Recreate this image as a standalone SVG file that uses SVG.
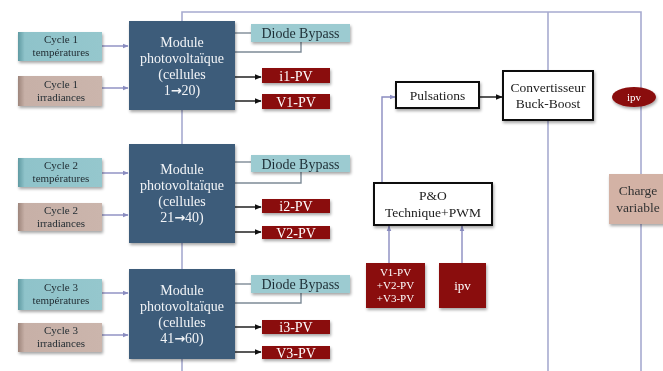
<svg xmlns="http://www.w3.org/2000/svg" width="663" height="371" viewBox="0 0 663 371">
<defs>
<style>
.t{font-family:"Liberation Serif","Times New Roman",serif;text-anchor:middle}
.arr{font-family:"DejaVu Sans",sans-serif;font-weight:bold;font-size:13px}
.mod{fill:#3d5c7a}
.mt{fill:#f2f4f7;font-size:14px}
.ct{fill:#1f2a30;font-size:11px}
.dt{fill:#1f2f36;font-size:14px}
.rt{fill:#ffffff;font-size:14px}
.red{fill:#8a0d0d}
.diode{fill:#9ccbd1}
.wb{fill:#ffffff;stroke:#111;stroke-width:2}
.bt{fill:#222;font-size:13.5px}
.lav{stroke:#a7abd0;stroke-width:1.6;fill:none}
.gl{stroke:#7d8a96;stroke-width:1.4;fill:none}
.pa{stroke:#8a8cc0;stroke-width:1.4;fill:none}
.ba{stroke:#111;stroke-width:1.4;fill:none}
</style>
<linearGradient id="gTeal" x1="0" y1="0" x2="1" y2="0">
<stop offset="0" stop-color="#5f9aa2"/><stop offset="0.08" stop-color="#8fc3ca"/><stop offset="1" stop-color="#95c7cd"/>
</linearGradient>
<linearGradient id="gBrown" x1="0" y1="0" x2="1" y2="0">
<stop offset="0" stop-color="#9d857b"/><stop offset="0.08" stop-color="#c7b0a7"/><stop offset="1" stop-color="#cbb5ac"/>
</linearGradient>
<filter id="sh" x="-20%" y="-20%" width="140%" height="150%">
<feDropShadow dx="1" dy="2" stdDeviation="1.5" flood-color="#000" flood-opacity="0.35"/>
</filter>
<marker id="ap" viewBox="0 0 10 10" refX="9" refY="5" markerWidth="6" markerHeight="6" orient="auto" markerUnits="userSpaceOnUse">
<path d="M0,1 L10,5 L0,9 z" fill="#8a8cc0"/>
</marker>
<marker id="ab" viewBox="0 0 10 10" refX="9" refY="5" markerWidth="7" markerHeight="7" orient="auto" markerUnits="userSpaceOnUse">
<path d="M0,1 L10,5 L0,9 z" fill="#111"/>
</marker>
</defs>
<rect width="663" height="371" fill="#ffffff"/>

<g id="connectors">
<path class="lav" d="M182,371 V12 H641 V371"/>
<path class="lav" d="M548,12 V371"/>
<path class="pa" d="M102,46 H128" marker-end="url(#ap)"/>
<path class="pa" d="M102,88 H128" marker-end="url(#ap)"/>
<path class="gl" d="M235,33 H251"/>
<path class="gl" d="M235,52 H301 V42"/>
<path class="ba" d="M235,77 H261" marker-end="url(#ab)"/>
<path class="ba" d="M235,101 H261" marker-end="url(#ab)"/>
<path class="pa" d="M102,173 H128" marker-end="url(#ap)"/>
<path class="pa" d="M102,215 H128" marker-end="url(#ap)"/>
<path class="gl" d="M235,162 H251"/>
<path class="gl" d="M235,183 H301 V172"/>
<path class="ba" d="M235,207 H261" marker-end="url(#ab)"/>
<path class="ba" d="M235,232 H261" marker-end="url(#ab)"/>
<path class="pa" d="M102,293 H128" marker-end="url(#ap)"/>
<path class="pa" d="M102,335 H128" marker-end="url(#ap)"/>
<path class="gl" d="M235,284 H251"/>
<path class="gl" d="M235,303 H301 V293"/>
<path class="ba" d="M235,327 H261" marker-end="url(#ab)"/>
<path class="ba" d="M235,352 H261" marker-end="url(#ab)"/>
<path class="pa" d="M382,183 V97 H395" marker-end="url(#ap)"/>
<path class="ba" d="M479,97 H502" marker-end="url(#ab)"/>
<path class="pa" d="M389,263 V226" marker-end="url(#ap)"/>
<path class="pa" d="M462,263 V226" marker-end="url(#ap)"/>
</g>

<g id="cycle1-temp" filter="url(#sh)"><rect x="18" y="32" width="84" height="29" fill="url(#gTeal)"/><text class="t ct" x="61" y="43">Cycle 1</text><text class="t ct" x="61" y="56">températures</text></g>
<g id="cycle1-irr" filter="url(#sh)"><rect x="18" y="76" width="84" height="30" fill="url(#gBrown)"/><text class="t ct" x="61" y="88">Cycle 1</text><text class="t ct" x="61" y="101">irradiances</text></g>
<g id="module1" filter="url(#sh)"><rect class="mod" x="129" y="21" width="106" height="89"/><text class="t mt" x="182" y="47">Module</text><text class="t mt" x="182" y="63">photovoltaïque</text><text class="t mt" x="182" y="79">(cellules</text><text class="t mt" x="182" y="95">1<tspan class="arr">→</tspan>20)</text></g>
<g id="diode1" filter="url(#sh)"><rect class="diode" x="251" y="24" width="99" height="18"/><text class="t dt" x="300.5" y="38">Diode Bypass</text></g>
<g id="i1pv" filter="url(#sh)"><rect class="red" x="262" y="68" width="68" height="15"/><text class="t rt" x="296" y="80.5">i1-PV</text></g>
<g id="v1pv" filter="url(#sh)"><rect class="red" x="262" y="94" width="68" height="15"/><text class="t rt" x="296" y="106.5">V1-PV</text></g>

<g id="cycle2-temp" filter="url(#sh)"><rect x="18" y="158" width="84" height="29" fill="url(#gTeal)"/><text class="t ct" x="61" y="169">Cycle 2</text><text class="t ct" x="61" y="182">températures</text></g>
<g id="cycle2-irr" filter="url(#sh)"><rect x="18" y="203" width="84" height="28" fill="url(#gBrown)"/><text class="t ct" x="61" y="214">Cycle 2</text><text class="t ct" x="61" y="227">irradiances</text></g>
<g id="module2" filter="url(#sh)"><rect class="mod" x="129" y="144" width="106" height="99"/><text class="t mt" x="182" y="174">Module</text><text class="t mt" x="182" y="190">photovoltaïque</text><text class="t mt" x="182" y="206">(cellules</text><text class="t mt" x="182" y="222">21<tspan class="arr">→</tspan>40)</text></g>
<g id="diode2" filter="url(#sh)"><rect class="diode" x="251" y="155" width="99" height="17"/><text class="t dt" x="300.5" y="168.5">Diode Bypass</text></g>
<g id="i2pv" filter="url(#sh)"><rect class="red" x="262" y="199" width="68" height="14"/><text class="t rt" x="296" y="211">i2-PV</text></g>
<g id="v2pv" filter="url(#sh)"><rect class="red" x="262" y="226" width="68" height="13"/><text class="t rt" x="296" y="237.5">V2-PV</text></g>

<g id="cycle3-temp" filter="url(#sh)"><rect x="18" y="279" width="84" height="31" fill="url(#gTeal)"/><text class="t ct" x="61" y="291">Cycle 3</text><text class="t ct" x="61" y="304">températures</text></g>
<g id="cycle3-irr" filter="url(#sh)"><rect x="18" y="323" width="84" height="29" fill="url(#gBrown)"/><text class="t ct" x="61" y="334">Cycle 3</text><text class="t ct" x="61" y="347">irradiances</text></g>
<g id="module3" filter="url(#sh)"><rect class="mod" x="129" y="269" width="106" height="90"/><text class="t mt" x="182" y="295">Module</text><text class="t mt" x="182" y="311">photovoltaïque</text><text class="t mt" x="182" y="327">(cellules</text><text class="t mt" x="182" y="343">41<tspan class="arr">→</tspan>60)</text></g>
<g id="diode3" filter="url(#sh)"><rect class="diode" x="251" y="275" width="99" height="18"/><text class="t dt" x="300.5" y="289">Diode Bypass</text></g>
<g id="i3pv" filter="url(#sh)"><rect class="red" x="262" y="320" width="68" height="14"/><text class="t rt" x="296" y="332">i3-PV</text></g>
<g id="v3pv" filter="url(#sh)"><rect class="red" x="262" y="346" width="68" height="13"/><text class="t rt" x="296" y="357.5">V3-PV</text></g>

<g id="pulsations" filter="url(#sh)"><rect class="wb" x="396" y="82" width="83" height="26"/><text class="t bt" x="437.5" y="100">Pulsations</text></g>
<g id="convertisseur" filter="url(#sh)"><rect class="wb" x="503" y="71" width="90" height="49"/><text class="t bt" x="548" y="92" font-size="13">Convertisseur</text><text class="t bt" x="548" y="108" font-size="13">Buck-Boost</text></g>
<g id="ipv-ellipse" filter="url(#sh)"><ellipse cx="634" cy="97" rx="22" ry="10" fill="#8a0d0d"/><text class="t" x="634" y="101" fill="#fff" font-size="11">ipv</text></g>
<g id="charge" filter="url(#sh)"><rect x="609" y="174" width="60" height="50" fill="#d3b2a5"/><text class="t" x="638" y="195" fill="#333" font-size="13.5">Charge</text><text class="t" x="638" y="212" fill="#333" font-size="13.5">variable</text></g>
<g id="po" filter="url(#sh)"><rect class="wb" x="374" y="183" width="118" height="42"/><text class="t bt" x="433" y="200">P&amp;O</text><text class="t bt" x="433" y="217">Technique+PWM</text></g>
<g id="vsum" filter="url(#sh)"><rect class="red" x="366" y="263" width="59" height="45"/><text class="t" x="395.5" y="276" fill="#fff" font-size="11">V1-PV</text><text class="t" x="395.5" y="289" fill="#fff" font-size="11">+V2-PV</text><text class="t" x="395.5" y="302" fill="#fff" font-size="11">+V3-PV</text></g>
<g id="ipv-box" filter="url(#sh)"><rect class="red" x="439" y="263" width="47" height="45"/><text class="t" x="462.5" y="290" fill="#fff" font-size="13">ipv</text></g>
</svg>
